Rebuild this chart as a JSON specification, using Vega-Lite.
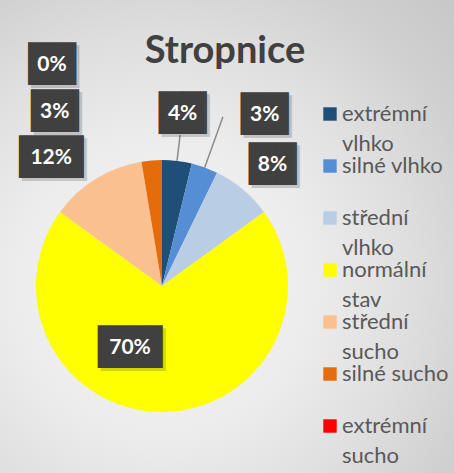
{
  "$schema": "https://vega.github.io/schema/vega-lite/v6.json",
  "width": 252,
  "height": 252,
  "autosize": {"type": "none"},
  "padding": {"left": 36, "top": 160, "right": 166, "bottom": 61},
  "background": "#e2e2e2",
  "config": {"view": {"stroke": null}, "font": "Lato"},
  "title": {
    "text": "Stropnice",
    "font": "Lato",
    "fontSize": 38,
    "fontWeight": "bold",
    "color": "#404040",
    "anchor": "middle",
    "frame": "group",
    "dx": 63,
    "offset": -205
  },
  "datasets": {
    "shares": [
      {"i": 1, "cat": "extrémní vlhko", "value": 0.038},
      {"i": 2, "cat": "silné vlhko", "value": 0.034},
      {"i": 3, "cat": "střední vlhko", "value": 0.078},
      {"i": 4, "cat": "normální stav", "value": 0.700},
      {"i": 5, "cat": "střední sucho", "value": 0.124},
      {"i": 6, "cat": "silné sucho", "value": 0.026},
      {"i": 7, "cat": "extrémní sucho", "value": 0.0}
    ]
  },
  "data": {"name": "shares"},
  "layer": [
    {
      "data": {"values": [{"bg": "chart area"}]},
      "mark": {
        "type": "arc",
        "theta": 0,
        "theta2": 6.2832,
        "innerRadius": 0,
        "outerRadius": 420,
        "color": {
          "gradient": "radial",
          "x1": 0.5, "y1": 0.5, "x2": 0.5, "y2": 0.5, "r1": 0, "r2": 0.5,
          "stops": [
            {"offset": 0, "color": "#f7f7f7"},
            {"offset": 0.36, "color": "#ececec"},
            {"offset": 0.6, "color": "#dedede"},
            {"offset": 0.79, "color": "#d0d0d0"},
            {"offset": 1, "color": "#c6c6c6"}
          ]
        }
      },
      "encoding": {}
    },
    {
      "mark": {"type": "arc", "outerRadius": 126},
      "encoding": {
        "theta": {"field": "value", "type": "quantitative", "stack": true},
        "order": {"field": "i", "type": "quantitative"},
        "color": {
          "field": "cat",
          "type": "nominal",
          "scale": {
            "domain": ["extrémní vlhko", "silné vlhko", "střední vlhko", "normální stav", "střední sucho", "silné sucho", "extrémní sucho"],
            "range": ["#1F4E79", "#558ED5", "#B9CDE5", "#FFFF00", "#FAC090", "#E46C0A", "#FF0000"]
          },
          "legend": {
            "orient": "none",
            "legendX": 283,
            "legendY": -57,
            "title": null,
            "padding": 0,
            "symbolType": "square",
            "symbolSize": 180,
            "symbolStrokeWidth": 0,
            "labelFont": "Lato",
            "labelFontSize": 22,
            "labelColor": "#595959",
            "labelLimit": 300,
            "labelOffset": 1,
            "rowPadding": -9.5,
            "labelExpr": "indexof(datum.label, 'silné') == 0 ? [datum.label, ' '] : split(datum.label, ' ')",
            "encode": {"labels": {"update": {"lineHeight": {"value": 30}}}}
          }
        }
      }
    },
    {
      "mark": {
        "type": "arc",
        "filled": false,
        "innerRadius": 126,
        "outerRadius": {"expr": "datum.i == 2 ? 180 : 152"},
        "padAngle": 3.14,
        "strokeWidth": 1.5
      },
      "encoding": {
        "theta": {"field": "value", "type": "quantitative", "stack": true},
        "order": {"field": "i", "type": "quantitative"},
        "detail": {"field": "cat", "type": "nominal"},
        "color": {"condition": {"test": "datum.i <= 2", "value": "#8c8c8c"}, "value": "transparent"}
      }
    },
    {
      "mark": {
        "type": "text",
        "font": "DejaVu Sans Mono",
        "fontSize": 36,
        "color": "#000000",
        "opacity": 0.16,
        "align": "center",
        "baseline": "middle",
        "radius": {"expr": "[173,182,158,62,150,175,221][datum.i-1]"},
        "dx": {"expr": "[0,41,9,-32,-32,-93,-110][datum.i-1] + 3"},
        "dy": 3
      },
      "encoding": {
        "theta": {"field": "value", "type": "quantitative", "stack": true},
        "order": {"field": "i", "type": "quantitative"},
        "detail": {"field": "cat", "type": "nominal"},
        "text": {"condition": {"test": "datum.value >= 0.095", "value": "▐██▌"}, "value": "▕██▏"}
      }
    },
    {
      "mark": {
        "type": "text",
        "font": "DejaVu Sans Mono",
        "fontSize": 36,
        "color": "#404040",
        "align": "center",
        "baseline": "middle",
        "radius": {"expr": "[173,182,158,62,150,175,221][datum.i-1]"},
        "dx": {"expr": "[0,41,9,-32,-32,-93,-110][datum.i-1]"}
      },
      "encoding": {
        "theta": {"field": "value", "type": "quantitative", "stack": true},
        "order": {"field": "i", "type": "quantitative"},
        "detail": {"field": "cat", "type": "nominal"},
        "text": {"condition": {"test": "datum.value >= 0.095", "value": "▐██▌"}, "value": "▕██▏"}
      }
    },
    {
      "mark": {
        "type": "text",
        "font": "Lato",
        "fontSize": 21,
        "fontWeight": "bold",
        "color": "#ffffff",
        "align": "center",
        "baseline": "middle",
        "radius": {"expr": "[173,182,158,62,150,175,221][datum.i-1]"},
        "dx": {"expr": "[0,41,9,-32,-32,-93,-110][datum.i-1]"}
      },
      "encoding": {
        "theta": {"field": "value", "type": "quantitative", "stack": true},
        "order": {"field": "i", "type": "quantitative"},
        "detail": {"field": "cat", "type": "nominal"},
        "text": {"field": "value", "type": "quantitative", "format": ".0%"}
      }
    }
  ]
}
